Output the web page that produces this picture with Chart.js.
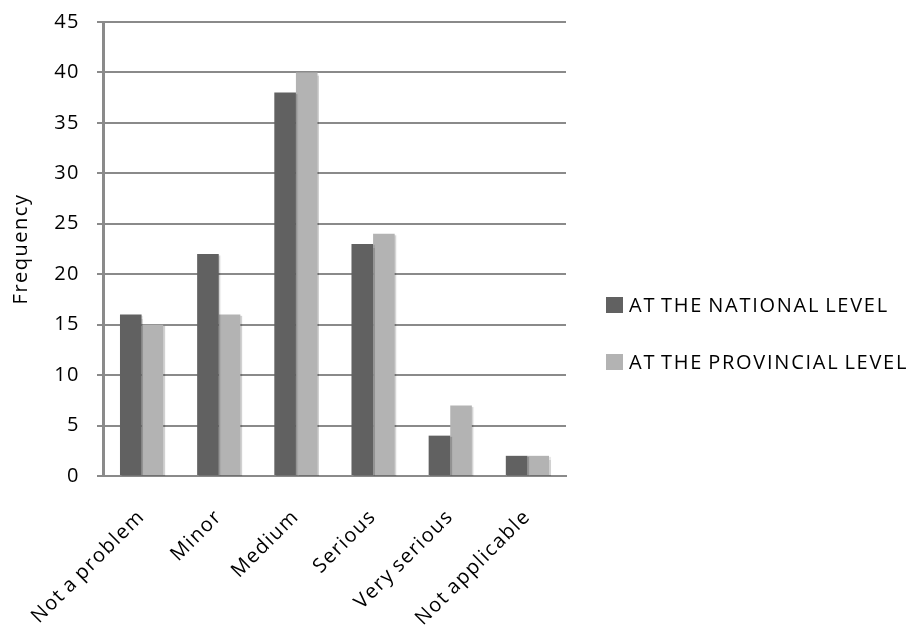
<!DOCTYPE html>
<html><head><meta charset="utf-8">
<script src="https://cdn.jsdelivr.net/npm/chart.js@4/dist/chart.umd.min.js"></script>
<style>html,body{margin:0;padding:0;background:#fff}#wrap{width:913px;height:630px}</style>
</head><body><div id="wrap"><canvas id="c" width="913" height="630"></canvas></div>
<script>
const categories = ['Not a problem', 'Minor', 'Medium', 'Serious', 'Very serious', 'Not applicable'];
const nationalValues = [16, 22, 38, 23, 4, 2];
const provincialValues = [15, 16, 40, 24, 7, 2];
const seriesLabels = ['AT THE NATIONAL LEVEL', 'AT THE PROVINCIAL LEVEL'];
const seriesColors = ['#616161', '#b3b3b3'];
const yTickValues = [0, 5, 10, 15, 20, 25, 30, 35, 40, 45];
const axisTitle = 'Frequency';

const FONT = '"Open Sans", sans-serif';
const SPACING = '1.5px';
const WORD_SPACING = '-2px';
const GRID = '#8a8a8a';

function applySpacing(ctx) {
  ctx.letterSpacing = SPACING;
  ctx.wordSpacing = WORD_SPACING;
}

const spacingPlugin = {
  id: 'spacing',
  beforeUpdate(chart) { applySpacing(chart.ctx); },
  beforeDraw(chart) { applySpacing(chart.ctx); }
};

const shadowPlugin = {
  id: 'barShadow',
  beforeDatasetsDraw(chart) {
    const ctx = chart.ctx;
    ctx.save();
    ctx.shadowColor = 'rgba(0,0,0,0.18)';
    ctx.shadowOffsetX = 1.5;
    ctx.shadowOffsetY = 1.5;
    ctx.shadowBlur = 1;
  },
  afterDatasetsDraw(chart) { chart.ctx.restore(); }
};

const legendPlugin = {
  id: 'sideLegend',
  afterDraw(chart) {
    const ctx = chart.ctx;
    const x0 = chart.chartArea.right + 40;
    ctx.save();
    ctx.letterSpacing = '1.75px';
    ctx.wordSpacing = WORD_SPACING;
    ctx.font = '20px ' + FONT;
    ctx.textBaseline = 'alphabetic';
    ctx.textAlign = 'left';
    chart.data.datasets.forEach((ds, i) => {
      const base = 312 + i * 57;
      ctx.fillStyle = ds.backgroundColor;
      ctx.fillRect(x0, base - 15, 17, 16);
      ctx.fillStyle = '#000';
      ctx.fillText(ds.label, x0 + 23, base);
    });
    ctx.restore();
  }
};

function draw() {
  new Chart(document.getElementById('c'), {
    type: 'bar',
    data: {
      labels: categories,
      datasets: [
        { label: seriesLabels[0], data: nationalValues, backgroundColor: seriesColors[0],
          categoryPercentage: 0.56, barPercentage: 1.0 },
        { label: seriesLabels[1], data: provincialValues, backgroundColor: seriesColors[1],
          categoryPercentage: 0.56, barPercentage: 1.0 }
      ]
    },
    options: {
      responsive: false,
      devicePixelRatio: 1,
      animation: false,
      layout: { padding: { top: 22, right: 347, left: 0, bottom: 0 } },
      plugins: { legend: { display: false }, tooltip: { enabled: false } },
      scales: {
        x: {
          grid: { display: false, drawTicks: false },
          border: { display: true, color: GRID, width: 2 },
          ticks: { color: '#000', font: { family: FONT, size: 20 }, minRotation: 45, maxRotation: 45, padding: 29, autoSkip: false },
          afterFit: (s) => { s.height = 154; s.paddingLeft = 0; s.paddingRight = 0; }
        },
        y: {
          min: 0, max: 45,
          afterBuildTicks: (s) => { s.ticks = yTickValues.map(v => ({ value: v })); },
          ticks: { color: '#000', font: { family: FONT, size: 20 }, padding: 17 },
          grid: { color: GRID, lineWidth: 2, tickLength: 6, drawTicks: true },
          border: { display: true, color: GRID, width: 3 },
          title: { display: true, text: axisTitle, color: '#000', font: { family: FONT, size: 20 }, padding: { top: 9, bottom: 0 } },
          afterFit: (s) => { s.width = 103; s.paddingTop = 0; s.paddingBottom = 0; }
        }
      }
    },
    plugins: [spacingPlugin, shadowPlugin, legendPlugin]
  });
}
if (document.fonts && document.fonts.load) {
  document.fonts.load('20px "Open Sans"').then(draw, draw);
} else { draw(); }
</script>
</body></html>
